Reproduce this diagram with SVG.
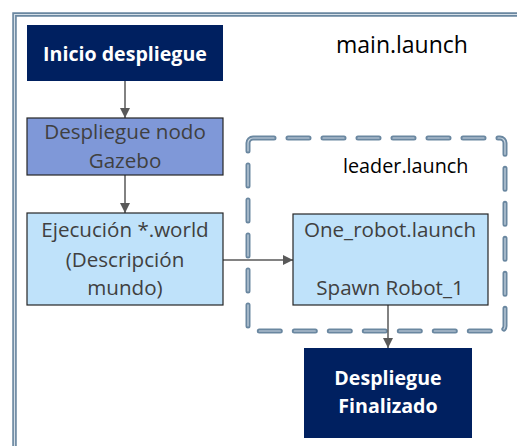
<svg xmlns="http://www.w3.org/2000/svg" width="517" height="446" viewBox="0 0 517 446">
<defs>
<marker id="ah" viewBox="0 0 10 10" refX="10" refY="5" markerWidth="10" markerHeight="10" markerUnits="userSpaceOnUse" orient="auto">
<path d="M0,0 L10,5 L0,10 z" fill="#595959"/>
</marker>
<style>
.frame-o{fill:none;stroke:#6a87a0;stroke-width:4.5}
.frame-i{fill:none;stroke:#d6e0e8;stroke-width:1.2}
.dash-o{fill:none;stroke:#6a87a0;stroke-width:5;stroke-linecap:round;stroke-dasharray:21 14}
.dash-i{fill:none;stroke:#c9d6e1;stroke-width:1.2;stroke-linecap:round;stroke-dasharray:21 14}
.dark{fill:#002060}
.mid{fill:#7f98d8;stroke:#262626;stroke-width:1.2}
.light{fill:#bfe2fa;stroke:#262626;stroke-width:1.2}
.tw{font-family:"Open Sans","Liberation Sans",sans-serif;font-weight:bold;font-size:19.6px;fill:#ffffff;text-anchor:middle}
.tg{font-family:"Open Sans","Liberation Sans",sans-serif;font-size:20.6px;fill:#404040;text-anchor:middle}
.tb{font-family:"Open Sans","Liberation Sans",sans-serif;fill:#000000}
.conn{stroke:#595959;stroke-width:1.5;fill:none}
</style>
</defs>
<rect width="517" height="446" fill="#ffffff"/>
<g id="frame">
<path class="frame-o" d="M14.5,460 L14.5,14.5 L530,14.5"/>
<path class="frame-i" d="M14.5,460 L14.5,14.5 L530,14.5"/>
<text class="tb" x="336" y="53" font-size="23px">main.launch</text>
</g>
<g id="leader">
<rect class="dash-o" x="248" y="138" width="257" height="193" rx="5"/>
<rect class="dash-i" x="248" y="138" width="257" height="193" rx="5"/>
<text class="tb" x="343" y="173" font-size="19.8px">leader.launch</text>
</g>
<g id="connectors">
<line class="conn" x1="125" y1="81" x2="125" y2="118" marker-end="url(#ah)"/>
<line class="conn" x1="125" y1="175" x2="125" y2="213" marker-end="url(#ah)"/>
<line class="conn" x1="223" y1="260" x2="293" y2="260" marker-end="url(#ah)"/>
<line class="conn" x1="388" y1="305" x2="388" y2="348" marker-end="url(#ah)"/>
</g>
<g id="inicio">
<rect class="dark" x="27" y="25" width="196" height="56"/>
<text class="tw" x="125" y="61">Inicio despliegue</text>
</g>
<g id="gazebo">
<rect class="mid" x="27" y="118" width="196" height="57"/>
<text class="tg" x="125" y="139">Despliegue nodo</text>
<text class="tg" x="125" y="168">Gazebo</text>
</g>
<g id="ejecucion">
<rect class="light" x="27" y="213" width="196" height="92"/>
<text class="tg" x="125" y="237">Ejecución *.world</text>
<text class="tg" x="125" y="267">(Descripción</text>
<text class="tg" x="125" y="295">mundo)</text>
</g>
<g id="onerobot">
<rect class="light" x="293" y="214" width="195" height="91"/>
<text class="tg" x="390" y="237">One_robot.launch</text>
<text class="tg" x="390" y="295">Spawn Robot_1</text>
</g>
<g id="final">
<rect class="dark" x="304" y="348" width="168" height="90"/>
<text class="tw" x="388" y="385">Despliegue</text>
<text class="tw" x="388" y="413">Finalizado</text>
</g>
</svg>
